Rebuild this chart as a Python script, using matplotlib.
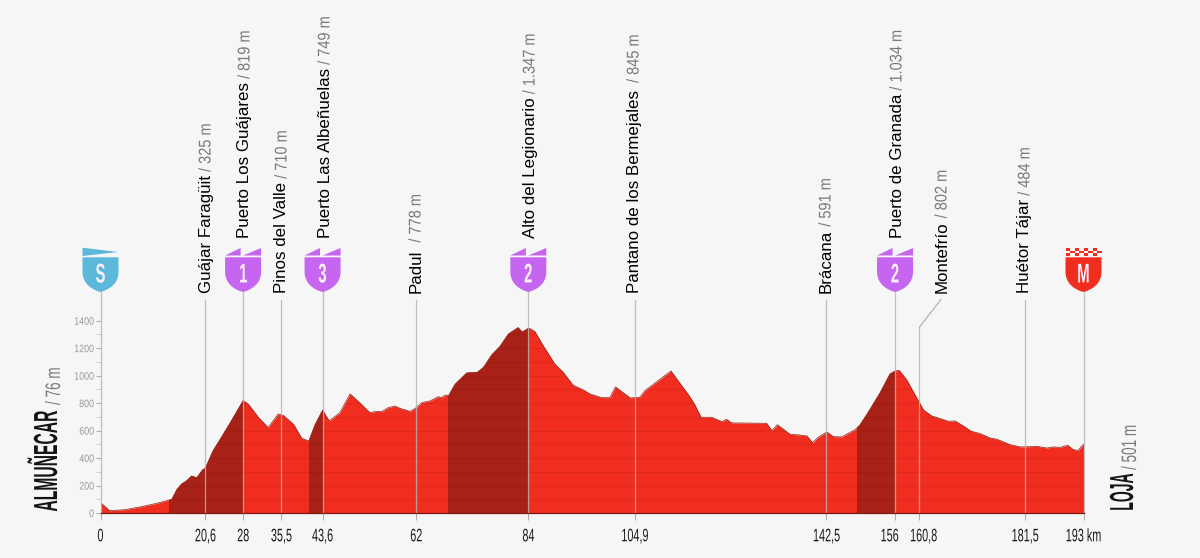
import matplotlib
matplotlib.use("Agg")
import matplotlib.pyplot as plt
from matplotlib.patheffects import AbstractPathEffect
from matplotlib.patches import PathPatch, Polygon, Rectangle
from matplotlib.path import Path
from matplotlib.transforms import Affine2D, Bbox, blended_transform_factory

# ---- data ----
km = [0, 1.8, 4.8, 7.75, 11, 13.5, 14, 15, 15.9, 16.9, 17.9, 18.9, 20, 20.6, 22.1, 23.5, 25.4, 28, 29, 31, 32.9,
      34.9, 35.9, 37.9, 39.5, 40.9, 42.1, 43.6, 44.9, 47, 49, 51, 52.9, 54.2, 55.2, 56.5, 57.8, 58.8, 60.8, 62,
      63.1, 64.7, 66.3, 66.9, 67.8, 68.3, 69.6, 71.9, 74, 75.2, 76.8, 78.4, 80.1, 82, 82.8, 84.1, 85.3, 86.9,
      89.2, 90.9, 92.8, 94.8, 96.1, 98.4, 100, 101.1, 104, 105.9, 106.9, 109.5, 112, 115.7, 116.7, 117.9, 120,
      122, 122.9, 123.9, 130.8, 131.8, 132.9, 135.4, 137.3, 138.7, 139.8, 140.9, 142.6, 143.9, 145.5, 147.2,
      148.1, 149.1, 150.8, 153, 155, 156, 156.8, 158.3, 160, 161.6, 163.2, 166.5, 167.8, 169.4, 171, 172.7,
      174.7, 176, 178.6, 180.6, 182.5, 183.8, 185.8, 187, 188.4, 189.9, 190.9, 191.9, 193]
elev = [76, 17, 24, 44, 70, 95, 100, 172, 211, 235, 270, 257, 313, 328, 454, 537, 653, 819, 794, 697, 622,
        721, 711, 646, 544, 524, 641, 749, 670, 731, 867, 799, 731, 740, 738, 767, 779, 762, 740, 767,
        804, 816, 847, 840, 860, 852, 937, 1020, 1025, 1061, 1151, 1212, 1304, 1350, 1318, 1347, 1321, 1219,
        1085, 1022, 930, 896, 867, 840, 840, 918, 838, 843, 891, 964, 1034, 847, 787, 697, 697,
        665, 682, 656, 653, 600, 643, 573, 568, 561, 512, 551, 590, 556, 554, 588,
        605, 641, 738, 872, 1012, 1034, 1039, 969, 855, 750, 707, 668, 670, 634, 595, 578,
        546, 537, 498, 481, 483, 486, 473, 481, 478, 493, 464, 454, 501]
climbs = [(13.5, 28), (40.9, 43.6), (68.3, 84), (148.5, 156)]
y_ticks = [0, 200, 400, 600, 800, 1000, 1200, 1400]
y_minor = [100, 300, 500, 700, 900, 1100, 1300]
x_ticks = [0, 20.6, 28, 35.5, 43.6, 62, 84, 104.9, 142.5, 156, 160.8, 181.5, 193]
x_labels = ["0", "20,6", "28", "35,5", "43,6", "62", "84", "104,9", "142,5", "156", "160,8", "181,5", "193 km"]
place_km = [20.6, 28, 35.5, 43.6, 62, 84, 104.9, 142.5, 156, 160.8, 181.5]
place_names = ["Guájar Faragüit", "Puerto Los Guájares", "Pinos del Valle", "Puerto Las Albeñuelas", "Padul",
               "Alto del Legionario", "Pantano de los Bermejales", "Brácana", "Puerto de Granada", "Montefrío",
               "Huétor Tájar"]
place_elev = ["325 m", "819 m", "710 m", "749 m", "778 m", "1.347 m", "845 m", "591 m", "1.034 m", "802 m", "484 m"]
place_cat = ["", "1", "", "3", "", "2", "", "", "2", "", ""]

BG, RED, DARK = "#F6F6F6", "#F02D1F", "#A82116"
BLUE, PURPLE = "#5BB8DB", "#C565F0"
RULE, GREY = "#B4B4B4", "#7A7A7A"
W, H = 1200, 558


class Squeeze(AbstractPathEffect):
    """Condense text along its direction, as the narrow display face does."""
    def __init__(self, sx, anchor=0.5):
        super().__init__()
        self.sx, self.anchor = sx, anchor

    def draw_path(self, renderer, gc, tpath, affine, rgbFace=None):
        ext = tpath.get_extents()
        a = ext.x0 + self.anchor * ext.width
        m = Affine2D().translate(-a, 0).scale(self.sx, 1).translate(a, 0) + affine
        renderer.draw_path(gc, tpath, m, rgbFace)


def condense(t, sx, anchor=0.5):
    """Apply Squeeze and make the text report the extent it actually covers."""
    t.set_path_effects([Squeeze(sx, anchor)])
    orig = t.get_window_extent

    def extent(renderer=None, dpi=None):
        b = orig(renderer, dpi)
        if t.get_rotation() == 90:
            c = b.y0 + anchor * b.height
            return Bbox([[b.x0, c + (b.y0 - c) * sx], [b.x1, c + (b.y1 - c) * sx]])
        c = b.x0 + anchor * b.width
        return Bbox([[c + (b.x0 - c) * sx, b.y0], [c + (b.x1 - c) * sx, b.y1]])

    t.get_window_extent = extent
    return t


fig = plt.figure(figsize=(W / 100, H / 100), dpi=100, facecolor=BG)
x0, x1, ybase, ytop = 100.5, 1083.5, 513.0, 320.7
ax = fig.add_axes([x0 / W, 1 - ybase / H, (x1 - x0) / W, (ybase - ytop) / H], facecolor="none")
ax.set_xlim(0, 193)
ax.set_ylim(0, 1400)
pix = Affine2D().scale(1, -1).translate(0, H)
xpix = blended_transform_factory(ax.transData, pix)

for s in ("top", "right", "left"):
    ax.spines[s].set_visible(False)
ax.spines["bottom"].set_color("#7E1A10")
ax.spines["bottom"].set_linewidth(0.9)
ax.spines["bottom"].set_zorder(6)

fill = ax.fill_between(km, elev, 0, color=RED, lw=0, zorder=2)
fp = fill.get_paths()[0]
for a, b in climbs:
    ax.axvspan(a, b, color=DARK, lw=0, zorder=3).set_clip_path(fp, ax.transData)
for yy in y_ticks[1:] + y_minor:
    ax.axhline(yy, color="#000000", alpha=0.07, lw=0.8, zorder=4).set_clip_path(fp, ax.transData)
ax.plot(km, elev, color="#8E1F14", lw=0.5, zorder=5)

# rules
for k, c in zip(place_km, place_cat):
    if k == 160.8:
        continue
    ax.plot([k, k], [292 if c else 299.5, ybase], transform=xpix, color=RULE, lw=0.9,
            alpha=0.85, clip_on=False, zorder=5)
for k in (0, 193):
    ax.plot([k, k], [292, ybase], transform=xpix, color=RULE, lw=0.9, alpha=0.85, clip_on=False, zorder=5)
ax.plot([160.8, 160.8], [327, ybase], transform=xpix, color=RULE, lw=0.9, alpha=0.85, clip_on=False, zorder=5)
ax.plot([941, 919.5], [299.5, 327], transform=pix, color=RULE, lw=0.9, clip_on=False, zorder=5)

# axes ticks
ax.set_yticks(y_ticks, [str(v) for v in y_ticks])
ax.set_yticks(y_minor, minor=True)
ax.tick_params(axis="y", which="major", length=3.8, width=0.8, color="#B0B0B0", labelcolor="#9A9A9A",
               labelsize=7.8, pad=0.8)
ax.tick_params(axis="y", which="minor", length=3.8, width=0.7, color="#D0D0D0")
for lab in ax.get_yticklabels():
    lab.set_family("Liberation Sans")
    condense(lab, 0.82, 1.0)

ax.set_xticks(x_ticks, x_labels)
ax.tick_params(axis="x", length=5, width=0.8, color="#B0B0B0", labelcolor="#1A1A1A", labelsize=13, pad=6)
nudge = {"156": -5.5, "160,8": 4.0}
for lab in ax.get_xticklabels():
    lab.set_family("Liberation Sans")
    condense(lab, 0.6, 0.5)
    if lab.get_text() in nudge:
        lab.set_transform(lab.get_transform() + Affine2D().translate(nudge[lab.get_text()], 0))

# place labels
fig.canvas.draw()
rend = fig.canvas.get_renderer()
name_x = {20.6: 206, 28: 245, 35.5: 282, 43.6: 325, 62: 416, 84: 530, 104.9: 634, 142.5: 826, 156: 897,
          160.8: 942, 181.5: 1025}
wide_gap = {62: 7, 104.9: 7}
for k, n, e, c in zip(place_km, place_names, place_elev, place_cat):
    y = 238 if c else 293
    t = ax.text(name_x[k], y, n, transform=pix, rotation=90, ha="center", va="bottom", fontsize=12.2,
                family="Liberation Sans", color="#000000", clip_on=False)
    top = H - t.get_window_extent(rend).y1
    ax.text(name_x[k], top - wide_gap.get(k, 3), "/ " + e, transform=pix, rotation=90, ha="center", va="bottom",
            fontsize=12.2, family="Liberation Sans", color=GREY, clip_on=False,
            path_effects=[Squeeze(0.86, 0)])

# shields
def shield(cx, colour, letter):
    tr = Affine2D().translate(cx, 0) + pix
    v = [(-18, 257.3), (-18, 272), (-18, 284), (-8, 290), (0, 292), (8, 290), (18, 284), (18, 272), (18, 257.3),
         (-18, 257.3)]
    codes = [Path.MOVETO, Path.LINETO, Path.CURVE4, Path.CURVE4, Path.CURVE4, Path.CURVE4, Path.CURVE4, Path.CURVE4,
             Path.LINETO, Path.CLOSEPOLY]
    ax.add_patch(PathPatch(Path(v, codes), fc=colour, lw=0, transform=tr, clip_on=False, zorder=7))
    condense(ax.text(cx, 282.5, letter, transform=pix, ha="center", va="baseline", fontsize=19.5, weight="bold",
                     family="Liberation Sans", color="#FBEFFB", clip_on=False, zorder=8), 0.55, 0.5)
    return tr

def km_px(k):
    return ax.transData.transform((k, 0))[0]

tr = shield(km_px(0), BLUE, "S")
ax.add_patch(Polygon([(-18, 247.7), (17.5, 252), (-18, 256)], fc=BLUE, lw=0, transform=tr, clip_on=False, zorder=7))
for k, c in zip(place_km, place_cat):
    if c:
        tr = shield(km_px(k), PURPLE, c)
        for pts in ([(-18, 255.5), (-2.5, 248), (-2.5, 255.5)], [(0, 255.5), (18, 248), (18, 255.5)]):
            ax.add_patch(Polygon(pts, fc=PURPLE, lw=0, transform=tr, clip_on=False, zorder=7))
tr = shield(km_px(193), RED, "M")
for row in range(3):
    for col in range(8):
        if (row + col) % 2 == 0:
            ax.add_patch(Rectangle((-18 + col * 4.5, 247.7 + row * 2.8), 4.5, 2.8, fc=RED, lw=0, transform=tr,
                                   clip_on=False, zorder=7))

# start and finish
condense(ax.text(64, 512, "ALMUÑECAR", transform=pix, rotation=90, ha="right", va="bottom", fontsize=24,
                 weight="bold", family="Liberation Sans", color="#141414", clip_on=False), 0.47, 0)
condense(ax.text(64, 405, "/ 76 m", transform=pix, rotation=90, ha="right", va="bottom", fontsize=15,
                 family="Liberation Sans", color=GREY, clip_on=False), 0.65, 0)
condense(ax.text(1140, 512, "LOJA", transform=pix, rotation=90, ha="right", va="bottom", fontsize=24,
                 weight="bold", family="Liberation Sans", color="#141414", clip_on=False), 0.42, 0)
condense(ax.text(1140, 470, "/ 501 m", transform=pix, rotation=90, ha="right", va="bottom", fontsize=15,
                 family="Liberation Sans", color=GREY, clip_on=False), 0.65, 0)

fig.savefig("out.png", dpi=100, facecolor=BG)
